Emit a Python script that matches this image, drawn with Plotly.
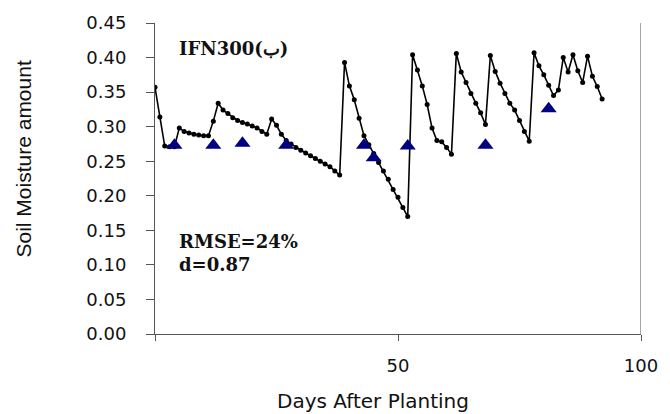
import plotly.graph_objects as go

# Simulated soil moisture, one value per day after planting
sim_days = list(range(0, 93))
sim_moisture = [
    0.357, 0.314, 0.272, 0.271, 0.271, 0.298, 0.293, 0.291, 0.289, 0.288,
    0.287, 0.287, 0.308, 0.334, 0.324, 0.319, 0.313, 0.309, 0.306, 0.304,
    0.301, 0.298, 0.293, 0.289, 0.311, 0.302, 0.289, 0.280, 0.275, 0.270,
    0.266, 0.262, 0.258, 0.254, 0.250, 0.246, 0.242, 0.236, 0.230, 0.393,
    0.359, 0.339, 0.312, 0.287, 0.274, 0.261, 0.248, 0.236, 0.224, 0.209,
    0.198, 0.183, 0.170, 0.404, 0.382, 0.359, 0.332, 0.298, 0.280, 0.278,
    0.270, 0.260, 0.406, 0.379, 0.364, 0.348, 0.334, 0.320, 0.303, 0.403,
    0.380, 0.363, 0.348, 0.334, 0.324, 0.309, 0.293, 0.279, 0.407, 0.388,
    0.375, 0.360, 0.345, 0.353, 0.400, 0.379, 0.404, 0.381, 0.364, 0.402,
    0.373, 0.358, 0.340,
]

# Measured soil moisture
obs_days = [4, 12, 18, 27, 43, 45, 52, 68, 81]
obs_moisture = [0.273, 0.273, 0.276, 0.273, 0.273, 0.255, 0.272, 0.273, 0.326]

y_ticks = [0.00, 0.05, 0.10, 0.15, 0.20, 0.25, 0.30, 0.35, 0.40, 0.45]
x_tick_vals = [0, 50, 100]
x_tick_text = ["", "50", "100"]

tick_font = dict(family="DejaVu Sans, Liberation Sans, Arial", size=18, color="#111")
note_font = dict(family="DejaVu Serif, Liberation Serif, Times New Roman", size=18, color="#111")

fig = go.Figure()

fig.add_trace(go.Scatter(
    x=sim_days, y=sim_moisture, mode="lines+markers",
    line=dict(color="black", width=1.6),
    marker=dict(symbol="circle", size=5, color="black"),
    showlegend=False,
))

fig.add_trace(go.Scatter(
    x=obs_days, y=obs_moisture, mode="markers",
    marker=dict(symbol="triangle-up", size=14, color="#000080"),
    showlegend=False,
))

# right-hand frame line
fig.add_shape(type="line", xref="x", yref="y", x0=100, x1=100, y0=0, y1=0.45,
              line=dict(color="#888", width=1.5))

fig.add_annotation(text="<b>IFN300(ب)</b>", xref="paper", yref="paper",
                   x=0.045, y=0.918, xanchor="left", yanchor="middle",
                   showarrow=False, font=note_font)
fig.add_annotation(text="<b>RMSE=24%</b>", xref="paper", yref="paper",
                   x=0.045, y=0.296, xanchor="left", yanchor="middle",
                   showarrow=False, font=note_font)
fig.add_annotation(text="<b>d=0.87</b>", xref="paper", yref="paper",
                   x=0.045, y=0.222, xanchor="left", yanchor="middle",
                   showarrow=False, font=note_font)

fig.add_annotation(text="Soil Moisture amount", xref="paper", yref="paper",
                   x=-0.271, y=0.562, xanchor="center", yanchor="middle",
                   textangle=-90, showarrow=False,
                   font=dict(family="Liberation Sans Narrow, Arial Narrow, Liberation Sans, Arial",
                             size=21, color="#111"))
fig.add_annotation(text="Days After Planting", xref="paper", yref="paper",
                   x=0.449, y=-0.215, xanchor="center", yanchor="middle",
                   showarrow=False,
                   font=dict(family="DejaVu Sans, Liberation Sans, Arial", size=20, color="#111"))

fig.update_layout(
    width=670, height=414,
    margin=dict(l=155, r=24, t=21, b=80),
    paper_bgcolor="white", plot_bgcolor="white",
)

fig.update_xaxes(
    range=[0, 100], tickvals=x_tick_vals, ticktext=x_tick_text,
    showgrid=False, zeroline=False,
    showline=True, linecolor="#555", linewidth=1,
    ticks="outside", ticklen=6, tickcolor="#555",
    ticklabelstandoff=9, tickfont=tick_font,
)
fig.update_yaxes(
    range=[0, 0.45], tickvals=y_ticks, tickformat=".2f",
    showgrid=False, zeroline=False,
    showline=True, linecolor="#555", linewidth=1,
    ticks="outside", ticklen=8, tickcolor="#555",
    ticklabelstandoff=16, tickfont=tick_font,
)

fig.write_html("out.html")
